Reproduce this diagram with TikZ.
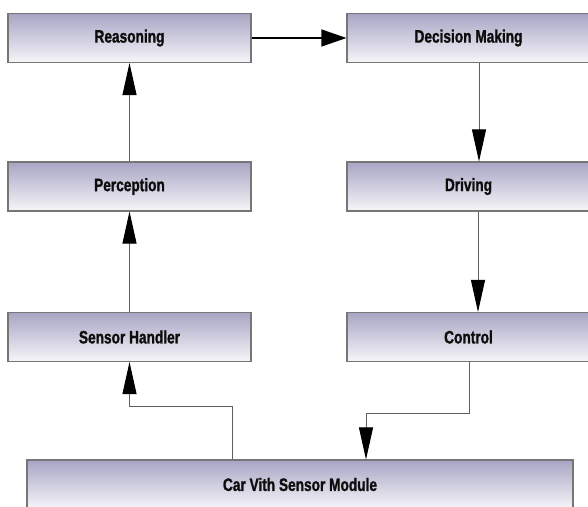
\documentclass[tikz,border=0pt]{standalone}
\usepackage{fontspec}
\setmainfont{Liberation Sans}[FakeStretch=0.76]
\newfontfamily\boxfont{Liberation Sans}[FakeStretch=0.76,FakeBold=1.2]
\usetikzlibrary{arrows.meta,calc}
\definecolor{boxtop}{RGB}{168,165,196}
\definecolor{boxbot}{RGB}{246,246,249}
\definecolor{boxedge}{RGB}{118,118,118}
\definecolor{linegray}{RGB}{95,95,95}
\begin{document}
\begin{tikzpicture}[x=1pt,y=-1pt,
  box/.style={draw=boxedge, line width=1.1pt, top color=boxtop, bottom color=boxbot,
    minimum height=49pt, inner sep=0pt, font=\boxfont\fontsize{18}{20}\selectfont\bfseries, text=black!95},
  conn/.style={draw=linegray, line width=0.9pt, -{Triangle[length=32pt,width=14pt,black]}},
  hconn/.style={draw=black, line width=1.2pt, -{Triangle[length=25pt,width=17pt,black]}}
]
\clip (0,0) rectangle (588,506);
\fill[white] (0,0) rectangle (588,506);
\node[box, minimum width=243pt] (reas) at (129.5,38) {Reasoning};
\node[box, minimum width=243pt] (dec) at (468.5,38) {Decision Making};
\node[box, minimum width=243pt] (perc) at (129.5,186.5) {Perception};
\node[box, minimum width=243pt] (drv) at (468.5,186.5) {Driving};
\node[box, minimum width=243pt] (sens) at (129.5,337) {Sensor Handler};
\node[box, minimum width=243pt] (ctl) at (468.5,337) {Control};
\node[box, minimum width=546pt] (car) at (300,484.5) {Car Vith Sensor Module};
\draw[conn] (sens.north) -- (perc.south);
\draw[conn] (perc.north) -- (reas.south);
\draw[hconn] (reas.east) -- (dec.west);
\draw[conn] ([xshift=10.5pt]dec.south) -- ([xshift=10.5pt]drv.north);
\draw[conn] ([xshift=9.5pt]drv.south) -- ([xshift=9.5pt]ctl.north);
\draw[conn] ([xshift=0.5pt]ctl.south) -- ++(0,51.5) -| ([xshift=66pt]car.north);
\draw[conn] ([xshift=-68pt]car.north) -- ++(0,-53) -| (sens.south);
\end{tikzpicture}
\end{document}
